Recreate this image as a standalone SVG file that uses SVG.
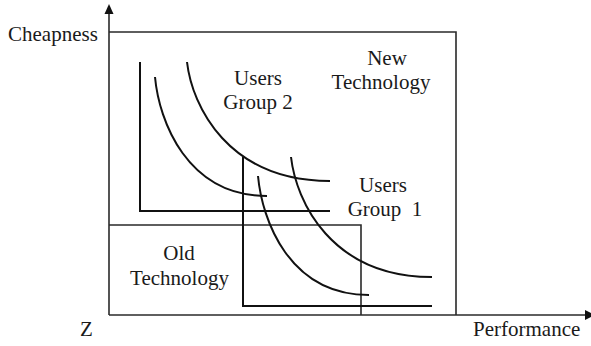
<svg xmlns="http://www.w3.org/2000/svg" width="591" height="346" viewBox="0 0 591 346">
  <style>
    text { font-family: "Liberation Serif", "Times New Roman", serif; font-size: 21px; fill: #1a1a1a; }
    .mid { text-anchor: middle; }
    .box { fill: none; stroke: #2a2a2a; stroke-width: 1.6; }
    .curve { fill: none; stroke: #111; stroke-width: 2; }
    .axis { fill: none; stroke: #2a2a2a; stroke-width: 1.6; }
    .head { fill: #111; }
  </style>
  <rect width="591" height="346" fill="#fff"/>

  <!-- axes with arrowheads -->
  <g id="connectors">
    <line class="axis" x1="109" y1="13" x2="109" y2="315"/>
    <polygon class="head" points="109,4 104.5,14 113.5,14"/>
    <line class="axis" x1="109" y1="315" x2="586" y2="315"/>
    <polygon class="head" points="595,315 585,310 585,320"/>
  </g>

  <!-- axis labels -->
  <g id="axis-labels">
    <text x="8" y="41">Cheapness</text>
    <text x="80" y="336">Z</text>
    <text x="473" y="336">Performance</text>
  </g>

  <!-- new technology region -->
  <g id="new-technology">
    <polyline class="box" points="109,32 456,32 456,315"/>
    <text class="mid" x="387" y="65">New</text>
    <text class="mid" x="381" y="89">Technology</text>
  </g>

  <!-- old technology region -->
  <g id="old-technology">
    <polyline class="box" points="109,225 361,225 361,315"/>
    <text class="mid" x="179" y="260">Old</text>
    <text class="mid" x="179.5" y="285">Technology</text>
  </g>

  <!-- users group 2: frame and indifference curves -->
  <g id="users-group-2">
    <polyline class="curve" points="140,62 140,211 330,211"/>
    <path class="curve" d="M155,77 C159,121 187,196 267,196"/>
    <path class="curve" d="M187,62 C192,106 228,181 330,181"/>
    <text class="mid" x="258" y="85">Users</text>
    <text class="mid" x="258" y="108.5">Group 2</text>
  </g>

  <!-- users group 1: frame and indifference curves -->
  <g id="users-group-1">
    <polyline class="curve" points="243,157 243,306 432,306"/>
    <path class="curve" d="M258,176 C262,220 289,295 369,295"/>
    <path class="curve" d="M291,157 C296,201 331,277 432,277"/>
    <text class="mid" x="383" y="192">Users</text>
    <text class="mid" x="385" y="216" xml:space="preserve">Group  1</text>
  </g>
</svg>
